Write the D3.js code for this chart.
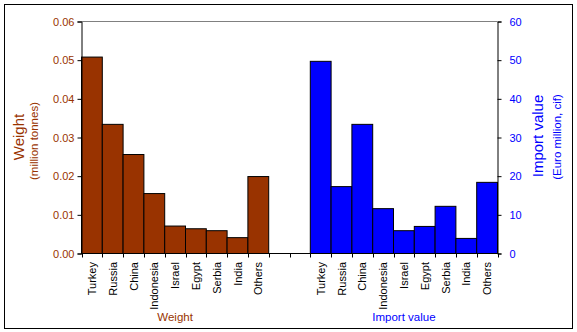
<!DOCTYPE html>
<html><head><meta charset="utf-8">
<script src="https://cdn.jsdelivr.net/npm/d3@7/dist/d3.min.js"></script>
<style>body{margin:0;background:#fff}svg{display:block;font-family:"Liberation Sans",Arial,sans-serif}</style>
</head><body><svg id="c" width="577" height="332"></svg>
<script>
const categories = ["Turkey","Russia","China","Indonesia","Israel","Egypt","Serbia","India","Others"];
const weightValues = [0.0508,0.0334,0.0256,0.0155,0.0071,0.0064,0.0059,0.0041,0.0199];
const importValues = [49.7,17.3,33.4,11.6,5.9,7.0,12.2,3.9,18.4];
const weightTicks = [0,0.01,0.02,0.03,0.04,0.05,0.06];
const importTicks = [0,10,20,30,40,50,60];

const svg = d3.select("#c");
const brown = "#993300", blue = "#0000FF";
const L = 81.5, R = 497.5, T = 21.5, B = 253.5;

svg.append("rect").attr("x",4.5).attr("y",4.5).attr("width",568).attr("height",324)
  .attr("fill","#fff").attr("stroke","#000");

const slots = categories.map(c=>"w-"+c).concat(["gap1","gap2"], categories.map(c=>"i-"+c));
const x = d3.scaleBand().domain(slots).range([L,R]).paddingInner(0).paddingOuter(0);
const yW = d3.scaleLinear().domain([0,0.06]).range([B,T]);
const yI = d3.scaleLinear().domain([0,60]).range([B,T]);

// top border line
svg.append("line").attr("x1",L).attr("x2",R).attr("y1",T).attr("y2",T).attr("stroke","#808080");

// bars
svg.append("g").selectAll("rect").data(weightValues).join("rect")
  .attr("x",(d,i)=>x("w-"+categories[i])).attr("width",x.bandwidth())
  .attr("y",d=>yW(d)).attr("height",d=>B-yW(d))
  .attr("fill",brown).attr("stroke","#000").attr("stroke-width",1);
svg.append("g").selectAll("rect").data(importValues).join("rect")
  .attr("x",(d,i)=>x("i-"+categories[i])).attr("width",x.bandwidth())
  .attr("y",d=>yI(d)).attr("height",d=>B-yI(d))
  .attr("fill",blue).attr("stroke","#000").attr("stroke-width",1);

// left axis
const gl = svg.append("g").attr("transform",`translate(${L},0)`)
  .call(d3.axisLeft(yW).tickValues(weightTicks).tickFormat(d3.format(".2f")).tickSize(4).tickPadding(3));
gl.select(".domain").attr("stroke","#000");
gl.selectAll(".tick line").attr("stroke","#000");
gl.selectAll("text").attr("fill",brown).style("font-size","11px");

// right axis
const gr = svg.append("g").attr("transform",`translate(${R},0)`)
  .call(d3.axisRight(yI).tickValues(importTicks).tickSize(4).tickPadding(8));
gr.select(".domain").attr("stroke","#000");
gr.selectAll(".tick line").attr("stroke","#000");
gr.selectAll("text").attr("fill",blue).style("font-size","11px");

// bottom axis
svg.append("line").attr("x1",L).attr("x2",R).attr("y1",B).attr("y2",B).attr("stroke","#000");
const bounds = slots.map(s=>x(s)).concat([R]);
svg.append("g").selectAll("line").data(bounds).join("line")
  .attr("x1",d=>Math.round(d)+0.5).attr("x2",d=>Math.round(d)+0.5).attr("y1",B).attr("y2",B+4).attr("stroke","#000");

// category labels
const labels = categories.map(c=>"w-"+c).concat(categories.map(c=>"i-"+c));
svg.append("g").selectAll("text").data(labels).join("text")
  .attr("transform",d=>`translate(${x(d)+x.bandwidth()/2+4},262) rotate(-90)`)
  .attr("text-anchor","end").style("font-size","11px").attr("fill","#000")
  .text(d=>d.slice(2));

// group titles
const cW = (x("w-Turkey")+x("w-Others")+x.bandwidth())/2;
const cI = (x("i-Turkey")+x("i-Others")+x.bandwidth())/2;
svg.append("text").attr("x",cW).attr("y",321).attr("text-anchor","middle").attr("fill",brown).style("font-size","11.5px").text("Weight");
svg.append("text").attr("x",cI).attr("y",321).attr("text-anchor","middle").attr("fill",blue).style("font-size","11.5px").text("Import value");

// axis titles
svg.append("text").attr("transform","translate(24,137) rotate(-90)").attr("text-anchor","middle").attr("fill",brown).style("font-size","15px").text("Weight");
svg.append("text").attr("transform","translate(38,141) rotate(-90)").attr("text-anchor","middle").attr("fill",brown).style("font-size","11.5px").text("(million tonnes)");
svg.append("text").attr("transform","translate(543,136) rotate(-90)").attr("text-anchor","middle").attr("fill",blue).style("font-size","15px").text("Import value");
svg.append("text").attr("transform","translate(561,137) rotate(-90)").attr("text-anchor","middle").attr("fill",blue).style("font-size","11.5px").text("(Euro million, cif)");
</script></body></html>
